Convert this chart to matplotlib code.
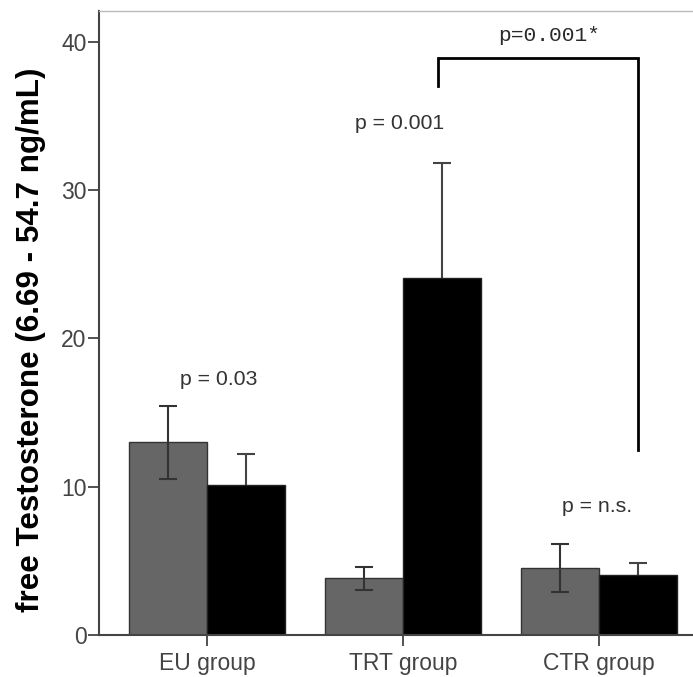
import matplotlib
matplotlib.use("Agg")
import matplotlib.pyplot as plt
import numpy as np

groups = ["EU group", "TRT group", "CTR group"]
before = [13.0, 3.82, 4.52]
before_err = [2.45, 0.77, 1.6]
after = [10.1, 24.1, 4.05]
after_err = [2.1, 7.7, 0.83]
yticks = [0, 10, 20, 30, 40]
p_labels = ["p = 0.03", "p = 0.001", "p = n.s."]
p_pos = [(0.06, 17.2), (0.981, 34.5), (1.988, 8.65)]

plt.rcParams['font.family'] = ['Liberation Sans', 'DejaVu Sans']

fig = plt.figure(figsize=(6.93, 6.77), dpi=100)
ax = fig.add_axes([99.3/693, 1-635/677, 1-99.3/693, (635-11)/677])

x = np.arange(len(groups))
w = 0.398
ax.bar(x - w/2, before, width=w, color='#666666', edgecolor='#333333', linewidth=1.0, zorder=2)
ax.bar(x + w/2, after, width=w, color='#000000', edgecolor='#222222', linewidth=1.0, zorder=2)
ax.errorbar(x - w/2, before, yerr=before_err, fmt='none', ecolor='#333333',
            elinewidth=1.5, capsize=6.8, capthick=1.5, zorder=3)
ax.errorbar(x + w/2, after, yerr=after_err, fmt='none', ecolor='#444444',
            elinewidth=1.5, capsize=6.8, capthick=1.5, zorder=1)

ax.set_xlim(-0.551, 2.480)
ax.set_ylim(0, 42.08)
ax.set_xticks(x)
ax.set_xticklabels(groups)
ax.set_yticks(yticks)
ax.tick_params(axis='both', labelsize=16.5, labelcolor='#444444', color='#444444',
               length=8.2, width=1.3, direction='out')
ax.tick_params(axis='x', pad=4)
ax.tick_params(axis='y', pad=1)

ax.spines['right'].set_visible(False)
ax.spines['top'].set_color('#bbbbbb')
ax.spines['top'].set_linewidth(1.0)
ax.spines['left'].set_color('#444444')
ax.spines['left'].set_linewidth(1.5)
ax.spines['bottom'].set_color('#444444')
ax.spines['bottom'].set_linewidth(1.5)

for lab, (px, py) in zip(p_labels, p_pos):
    ax.text(px, py, lab, ha='center', va='center', fontsize=15.3, color='#333333')

# bracket TRT vs CTR
ax.plot([1.179, 1.179, 2.201, 2.201], [37.0, 38.9, 38.9, 12.5], color='black', lw=2.0,
        solid_joinstyle='miter', clip_on=False)
ax.text(1.744, 40.46, "p=0.001*", ha='center', va='center', fontsize=15.3,
        family=['Liberation Mono', 'DejaVu Sans Mono'], color='#2a2a2a')

fig.text(31/693, 1-340/677, "free Testosterone (6.69 - 54.7 ng/mL)", rotation=90,
         ha='center', va='center', fontsize=22.6, fontweight='bold', color='black')

fig.savefig("out.png", dpi=100)
